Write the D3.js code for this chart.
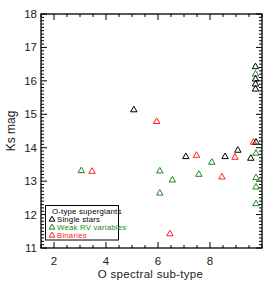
<!DOCTYPE html>
<html>
<head>
<meta charset="utf-8">
<script src="https://cdn.jsdelivr.net/npm/d3@7"></script>
<style>
body { margin: 0; background: #fff; }
text { font-family: "Liberation Sans", Arial, sans-serif; }
</style>
</head>
<body>
<script>
var width = 274;
var height = 283;

// data
var singleX = [5.07, 7.07, 8.58, 9.07, 9.57, 9.77, 9.75, 9.75, 9.75, 9.75];
var singleY = [15.13, 13.73, 13.73, 13.92, 13.68, 14.16, 16.42, 16.05, 15.9, 15.75];
var weakX = [3.05, 6.07, 6.55, 6.07, 7.57, 8.07, 9.77, 9.77, 9.77, 9.77, 9.75];
var weakY = [13.31, 13.3, 13.03, 12.64, 13.2, 13.56, 13.83, 13.1, 12.82, 12.32, 16.2];
var binX = [3.46, 5.95, 7.48, 8.96, 8.46, 6.46, 9.67];
var binY = [13.29, 14.78, 13.77, 13.71, 13.12, 11.42, 14.16];
var xTicks = [2, 4, 6, 8];
var yTicks = [11, 12, 13, 14, 15, 16, 17, 18];
var legendLabels = ['Single stars', 'Weak RV variables', 'Binaries'];
var colors = ['#000000', '#1a8a1a', '#ff2020'];

var margin = {left: 41, right: 12, top: 14, bottom: 35};

var svg = d3.select('body')
    .append('svg')
    .attr('width', width)
    .attr('height', height);

var x = d3.scaleLinear().domain([1.5, 10]).range([margin.left, width - margin.right]);
var y = d3.scaleLinear().domain([11, 18]).range([height - margin.bottom, margin.top]);

var minorX = d3.range(1.5, 10.01, 0.5).filter(v => xTicks.indexOf(v) < 0);
var minorY = d3.range(11, 18.001, 0.1).map(v => +v.toFixed(1)).filter(v => yTicks.indexOf(v) < 0);

// frame
svg.append('rect')
    .attr('x', x(1.5)).attr('y', y(18))
    .attr('width', x(10) - x(1.5)).attr('height', y(11) - y(18))
    .attr('fill', 'none').attr('stroke', '#000').attr('stroke-width', 1.3);

var ax = svg.append('g').attr('stroke', '#000').attr('stroke-width', 1);

// x ticks, bottom and top, pointing in
xTicks.forEach(function(v) {
    ax.append('line').attr('x1', x(v)).attr('x2', x(v)).attr('y1', y(11)).attr('y2', y(11) - 6);
    ax.append('line').attr('x1', x(v)).attr('x2', x(v)).attr('y1', y(18)).attr('y2', y(18) + 6);
});
minorX.forEach(function(v) {
    ax.append('line').attr('x1', x(v)).attr('x2', x(v)).attr('y1', y(11)).attr('y2', y(11) - 3);
    ax.append('line').attr('x1', x(v)).attr('x2', x(v)).attr('y1', y(18)).attr('y2', y(18) + 3);
});
yTicks.forEach(function(v) {
    ax.append('line').attr('y1', y(v)).attr('y2', y(v)).attr('x1', x(1.5)).attr('x2', x(1.5) + 6);
    ax.append('line').attr('y1', y(v)).attr('y2', y(v)).attr('x1', x(10)).attr('x2', x(10) - 6);
});
minorY.forEach(function(v) {
    ax.append('line').attr('y1', y(v)).attr('y2', y(v)).attr('x1', x(1.5)).attr('x2', x(1.5) + 3);
    ax.append('line').attr('y1', y(v)).attr('y2', y(v)).attr('x1', x(10)).attr('x2', x(10) - 3);
});

svg.selectAll('.xl')
    .data(xTicks)
    .enter()
    .append('text')
    .attr('x', d => x(d))
    .attr('y', y(11) + 17)
    .attr('text-anchor', 'middle')
    .attr('font-size', 11.5)
    .attr('fill', '#222')
    .text(d => d);

svg.selectAll('.yl')
    .data(yTicks)
    .enter()
    .append('text')
    .attr('x', x(1.5) - 4)
    .attr('y', d => y(d) + 4)
    .attr('text-anchor', 'end')
    .attr('font-size', 11.5)
    .attr('fill', '#222')
    .text(d => d);

svg.append('text')
    .attr('x', x(5.75) - 1)
    .attr('y', height - 5)
    .attr('text-anchor', 'middle')
    .attr('font-size', 11.5)
    .attr('letter-spacing', 0.3)
    .attr('fill', '#222')
    .text('O spectral sub-type');

svg.append('text')
    .attr('transform', 'translate(15,' + y(14.5) + ') rotate(-90)')
    .attr('text-anchor', 'middle')
    .attr('font-size', 12)
    .attr('fill', '#222')
    .text('Ks mag');

var tri = d3.symbol().type(d3.symbolTriangle).size(18);
var triSmall = d3.symbol().type(d3.symbolTriangle).size(14);

function drawSeries(xs, ys, col) {
    svg.append('g').selectAll('path')
        .data(xs.map((v, i) => [v, ys[i]]))
        .enter()
        .append('path')
        .attr('d', tri)
        .attr('transform', d => 'translate(' + x(d[0]) + ',' + y(d[1]) + ')')
        .attr('fill', 'none')
        .attr('stroke', col)
        .attr('stroke-width', 1);
}
drawSeries(weakX, weakY, colors[1]);
drawSeries(binX, binY, colors[2]);
drawSeries(singleX, singleY, colors[0]);

// legend
var lg = svg.append('g');
lg.append('rect')
    .attr('x', 45.5).attr('y', 205.5)
    .attr('width', 73).attr('height', 34.5)
    .attr('fill', '#fff').attr('stroke', '#000').attr('stroke-width', 1);
lg.append('text')
    .attr('x', 52).attr('y', 213.5)
    .attr('font-size', 7.8)
    .attr('letter-spacing', 0.2)
    .attr('fill', '#000')
    .text('O-type supergiants');
legendLabels.forEach(function(t, i) {
    lg.append('path')
        .attr('d', triSmall)
        .attr('transform', 'translate(' + 52 + ',' + (219.5 + i * 8) + ')')
        .attr('fill', 'none')
        .attr('stroke', colors[i]);
    lg.append('text')
        .attr('x', 57).attr('y', 221.8 + i * 8)
        .attr('font-size', 7.8)
        .attr('letter-spacing', 0.2)
        .attr('fill', colors[i])
        .text(t);
});
</script>
</body>
</html>
